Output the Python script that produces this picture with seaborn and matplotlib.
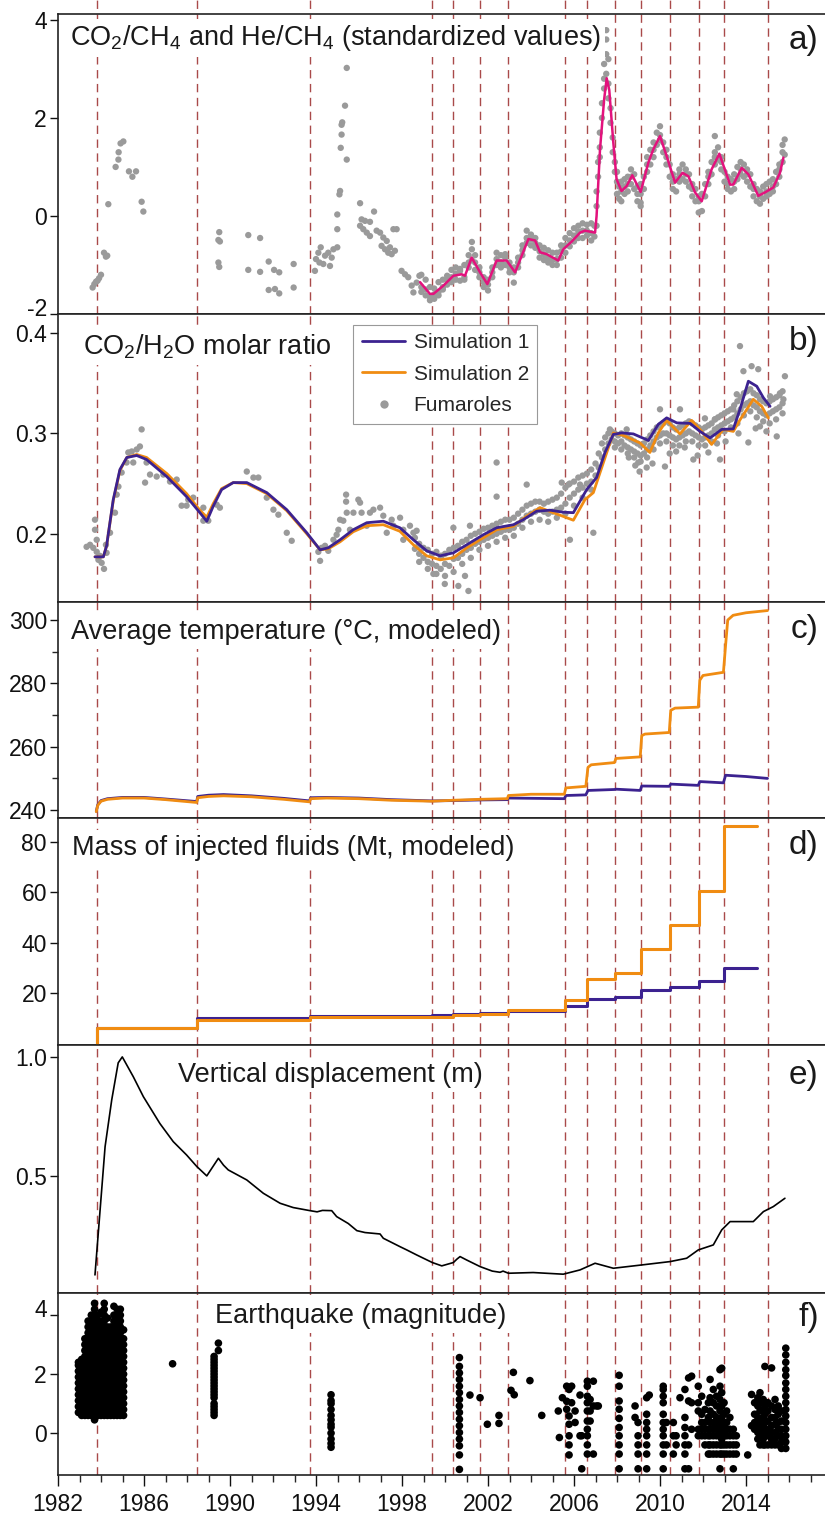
import numpy as np
import pandas as pd
import matplotlib
matplotlib.use("Agg")
import matplotlib.pyplot as plt
import matplotlib.transforms as mtrans
import seaborn as sns
from matplotlib.lines import Line2D
from matplotlib.ticker import FixedLocator, MultipleLocator

# ---------------- data ----------------
events = [1983.81, 1988.47, 1993.72, 1999.40, 2000.37, 2001.63, 2002.93,
          2005.58, 2006.60, 2007.91, 2009.12, 2010.47, 2011.81, 2012.98, 2015.02]

# (a) CO2/CH4 & He/CH4 standardized
a_sparse = [(1983.61, -1.46), (1983.69, -1.39), (1983.77, -1.34), (1983.84, -1.32), (1983.91, -1.27),
            (1984.00, -1.20), (1984.14, -0.75), (1984.23, -0.83), (1984.29, -0.81), (1984.34, 0.24),
            (1984.68, 1.00), (1984.81, 1.15), (1984.82, 1.30), (1984.91, 1.48), (1985.04, 1.52),
            (1985.30, 0.91), (1985.46, 0.80), (1985.63, 0.91), (1985.89, 0.29), (1985.97, 0.09),
            (1989.50, -0.33), (1989.46, -0.49), (1989.53, -0.52), (1989.46, -0.95), (1989.50, -1.04),
            (1990.85, -0.39), (1991.40, -0.45), (1990.85, -1.10), (1991.40, -1.14), (1991.80, -0.93),
            (1992.05, -1.10), (1992.29, -1.15), (1991.80, -1.51), (1992.09, -1.49), (1992.29, -1.58),
            (1992.96, -0.98), (1992.96, -1.46),
            (1993.95, -1.12), (1994.00, -0.88), (1994.11, -0.75), (1994.22, -0.64), (1994.16, -0.95),
            (1994.34, -0.98), (1994.42, -0.81), (1994.57, -0.75), (1994.65, -1.02), (1994.73, -0.85),
            (1994.81, -0.68), (1994.99, -0.64), (1994.99, -0.27), (1994.99, 0.03), (1995.09, 0.44),
            (1995.12, 0.51), (1995.15, 1.39), (1995.19, 1.66), (1995.19, 1.86), (1995.22, 1.91),
            (1995.35, 2.25), (1995.43, 3.02), (1995.43, 1.15), (1996.05, 0.26), (1996.70, 0.09),
            (1996.12, -0.07), (1996.28, -0.10), (1996.51, -0.12), (1996.05, -0.20), (1996.20, -0.27),
            (1996.36, -0.34), (1996.51, -0.41), (1996.82, -0.30), (1996.98, -0.34), (1997.13, -0.44),
            (1997.29, -0.51), (1997.05, -0.61), (1997.21, -0.68), (1997.36, -0.75), (1997.52, -0.78),
            (1997.60, -0.27), (1997.75, -0.27), (1997.44, -0.64), (1997.67, -0.71), (1997.98, -1.12),
            (1998.14, -1.19), (1998.29, -1.25), (1998.45, -1.42), (1998.53, -1.56), (1998.68, -1.36),
            (1998.81, -1.22)]

a_dense_t = [1998.9, 1999.1, 1999.3, 1999.5, 1999.7, 1999.9, 2000.1, 2000.3, 2000.5, 2000.7,
             2000.9, 2001.1, 2001.25, 2001.4, 2001.6, 2001.8, 2002.0, 2002.2, 2002.4, 2002.6,
             2002.8, 2003.0, 2003.2, 2003.4, 2003.6, 2003.8, 2004.0, 2004.2, 2004.4, 2004.6,
             2004.8, 2005.0, 2005.2, 2005.4, 2005.6, 2005.8, 2006.0, 2006.2, 2006.4, 2006.6,
             2006.8, 2006.95, 2007.05, 2007.12, 2007.2, 2007.3, 2007.4, 2007.5, 2007.6, 2007.7,
             2007.8, 2007.9, 2008.0, 2008.1, 2008.2, 2008.35, 2008.5, 2008.65, 2008.8, 2008.95,
             2009.1, 2009.25, 2009.4, 2009.55, 2009.7, 2009.85, 2010.0, 2010.15, 2010.3, 2010.45,
             2010.6, 2010.75, 2010.9, 2011.05, 2011.2, 2011.35, 2011.5, 2011.65, 2011.8, 2011.95,
             2012.1, 2012.25, 2012.4, 2012.55, 2012.7, 2012.85, 2013.0, 2013.15, 2013.3, 2013.45,
             2013.6, 2013.75, 2013.9, 2014.05, 2014.2, 2014.35, 2014.5, 2014.65, 2014.8, 2014.95,
             2015.1, 2015.25, 2015.4, 2015.55, 2015.7, 2015.8]
a_dense_v = [[-1.20, -1.45, -1.55], [-1.30, -1.62, -1.50], [-1.45, -1.72, -1.65], [-1.48, -1.69, -1.60],
             [-1.35, -1.55, -1.62], [-1.30, -1.50, -1.45], [-1.22, -1.40, -1.30], [-1.10, -1.35, -1.25],
             [-1.05, -1.30, -1.18], [-1.08, -1.32, -1.12], [-1.00, -1.30, -1.25], [-0.80, -1.05, -0.95],
             [-0.53, -0.68, -0.90], [-0.95, -1.10, -0.80], [-1.05, -1.25, -1.15], [-1.25, -1.45, -1.35],
             [-1.30, -1.52, -1.40], [-1.05, -1.25, -1.15], [-0.75, -1.00, -0.88], [-0.80, -1.05, -0.95],
             [-0.78, -1.00, -0.85], [-0.95, -1.15, -1.05], [-1.05, -1.36, -1.15], [-0.85, -1.05, -0.95],
             [-0.60, -0.80, -0.70], [-0.30, -0.55, -0.45], [-0.38, -0.60, -0.48], [-0.45, -0.65, -0.55],
             [-0.60, -0.85, -0.72], [-0.65, -0.90, -0.78], [-0.70, -0.95, -0.85], [-0.75, -1.00, -0.90],
             [-0.75, -1.00, -0.88], [-0.60, -0.85, -0.72], [-0.45, -0.75, -0.60], [-0.35, -0.62, -0.50],
             [-0.25, -0.52, -0.40], [-0.20, -0.45, -0.32], [-0.15, -0.45, -0.30], [-0.18, -0.40, -0.30],
             [-0.15, -0.50, -0.35], [-0.20, -0.42], [0.20, -0.20, 0.50], [0.80, 1.10],
             [1.40, 1.70, 1.20], [2.00, 2.30], [2.60, 3.10, 2.80], [3.30, 3.60, 3.79, 2.90],
             [3.20, 2.70, 2.40], [2.20, 1.90], [1.60, 1.30], [0.90, 1.10],
             [0.70, 0.45, 0.90], [0.60, 0.35], [0.50, 0.30, 0.70], [0.45, 0.75, 0.60],
             [0.80, 0.50, 0.65], [0.95, 0.65, 0.80], [0.85, 0.55], [0.60, 0.30, 0.45],
             [0.45, 0.20, 0.65, 0.27], [0.80, 0.55], [1.20, 0.90, 1.05], [1.35, 1.05],
             [1.50, 1.20, 1.35], [1.70, 1.45], [1.83, 1.55, 1.65], [1.50, 1.30],
             [1.35, 1.05, 1.20], [1.05, 0.80], [0.85, 0.55, 0.70], [0.75, 0.50],
             [0.95, 0.70, 0.85], [1.05, 0.75], [0.95, 0.70, 0.85], [0.85, 0.60],
             [0.65, 0.40, 0.55], [0.55, 0.30], [0.40, 0.07, 0.30], [0.45, 0.10],
             [0.65, 0.40], [0.90, 0.65, 0.80], [1.10, 0.85], [1.63, 1.30, 1.05, 1.20],
             [1.40, 1.15], [1.20, 0.95, 1.10], [0.90, 0.70], [0.80, 0.55, 0.65],
             [0.75, 0.50], [0.85, 0.55, 0.70], [1.00, 0.75], [1.10, 0.85, 0.95],
             [1.05, 0.80], [0.95, 0.70, 0.85], [0.85, 0.60], [0.65, 0.40, 0.55],
             [0.55, 0.30], [0.50, 0.25, 0.40], [0.60, 0.35], [0.65, 0.40, 0.50],
             [0.70, 0.45], [0.75, 0.50, 0.60], [0.90, 0.65], [1.05, 0.80, 0.95],
             [1.30, 1.10, 1.45], [1.56, 1.25]]

a_line_t = [1998.84, 1999.30, 1999.46, 1999.93, 2000.39, 2000.78, 2000.93, 2001.24, 2001.63, 2001.97,
            2002.40, 2002.87, 2003.26, 2003.88, 2004.19, 2004.42, 2004.73, 2005.27, 2005.50, 2005.90,
            2006.28, 2006.51, 2006.98, 2007.05, 2007.21, 2007.40, 2007.52, 2007.64, 2007.83, 2007.98,
            2008.21, 2008.45, 2008.71, 2009.10, 2009.46, 2009.69, 2010.00, 2010.31, 2010.70, 2011.05,
            2011.32, 2011.63, 2011.94, 2012.40, 2012.76, 2013.26, 2013.41, 2013.80, 2014.11, 2014.57,
            2014.88, 2015.27, 2015.58, 2015.74]
a_line_v = [-1.35, -1.59, -1.59, -1.42, -1.22, -1.19, -1.22, -0.85, -1.15, -1.39,
            -0.91, -0.91, -1.15, -0.47, -0.50, -0.74, -0.78, -0.91, -0.68, -0.52,
            -0.34, -0.30, -0.34, 0.00, 1.36, 2.37, 2.81, 2.57, 1.49, 0.75,
            0.51, 0.61, 0.83, 0.49, 1.09, 1.36, 1.63, 1.22, 0.68, 0.88,
            0.81, 0.48, 0.30, 0.95, 1.27, 0.64, 0.64, 0.98, 0.85, 0.41,
            0.48, 0.58, 0.88, 1.19]

# (b) CO2/H2O molar ratio
b_sparse = [(1983.33, 0.187), (1983.49, 0.189), (1983.64, 0.186), (1983.72, 0.214), (1983.72, 0.204),
            (1983.80, 0.194), (1983.80, 0.182), (1983.88, 0.174), (1983.95, 0.178), (1984.03, 0.171),
            (1984.14, 0.165), (1984.23, 0.189), (1984.26, 0.181), (1984.42, 0.201), (1984.65, 0.221),
            (1984.73, 0.239), (1984.81, 0.247), (1984.96, 0.261), (1985.19, 0.271), (1985.27, 0.281),
            (1985.43, 0.282), (1985.50, 0.271), (1985.66, 0.284), (1985.81, 0.287), (1985.89, 0.304),
            (1986.12, 0.271), (1986.05, 0.251), (1986.28, 0.259), (1986.59, 0.257), (1986.90, 0.259),
            (1987.21, 0.252), (1987.52, 0.254), (1987.75, 0.228), (1987.98, 0.228), (1988.06, 0.234),
            (1988.29, 0.236), (1988.76, 0.226), (1988.76, 0.213), (1988.99, 0.213), (1989.38, 0.229),
            (1989.53, 0.226), (1990.78, 0.262), (1991.09, 0.256), (1991.32, 0.256), (1991.71, 0.236),
            (1992.02, 0.224), (1992.25, 0.219), (1992.64, 0.201), (1992.87, 0.193), (1994.11, 0.182),
            (1994.19, 0.173), (1994.26, 0.186), (1994.42, 0.188), (1994.57, 0.183), (1994.81, 0.194),
            (1994.96, 0.199), (1995.04, 0.204), (1995.27, 0.213), (1995.12, 0.214), (1995.40, 0.239),
            (1995.40, 0.232), (1995.43, 0.221), (1995.58, 0.204), (1995.74, 0.221), (1995.97, 0.234),
            (1996.05, 0.231), (1996.12, 0.221), (1996.36, 0.208), (1996.51, 0.221), (1996.67, 0.224),
            (1996.98, 0.226), (1997.13, 0.218), (1997.29, 0.201), (1997.52, 0.214), (1997.60, 0.208),
            (1997.91, 0.216), (1998.06, 0.204), (1998.06, 0.194), (1998.37, 0.208), (1998.53, 0.201),
            (1998.68, 0.203), (1998.76, 0.188),
            (1999.46, 0.160), (1999.84, 0.178), (1999.99, 0.150), (2000.39, 0.206), (2000.62, 0.148),
            (2000.93, 0.158), (2001.09, 0.143), (2001.16, 0.208), (2002.40, 0.271), (2002.40, 0.237),
            (2003.80, 0.249), (2005.43, 0.251), (2005.74, 0.249), (2005.81, 0.194), (2006.28, 0.249),
            (2006.90, 0.201), (2007.67, 0.304), (2008.45, 0.304), (2008.99, 0.271), (2009.38, 0.266),
            (2010.00, 0.324), (2010.23, 0.267), (2010.93, 0.324), (2011.55, 0.274), (2012.09, 0.315),
            (2012.56, 0.314), (2012.79, 0.274), (2013.41, 0.324), (2013.57, 0.339), (2013.72, 0.387),
            (2013.88, 0.362), (2014.11, 0.291), (2014.26, 0.367), (2014.57, 0.364), (2014.65, 0.307),
            (2015.12, 0.337), (2015.43, 0.297), (2015.58, 0.340), (2015.81, 0.357), (2015.74, 0.334),
            (2008.55, 0.276), (2008.85, 0.268), (2009.05, 0.262), (2009.65, 0.270), (2010.45, 0.280),
            (2010.75, 0.282), (2011.15, 0.286), (2011.75, 0.278), (2012.25, 0.281), (2012.65, 0.290),
            (2013.05, 0.292), (2013.65, 0.300), (2014.45, 0.305), (2014.95, 0.302)]

b_dense_t = [1998.6, 1998.8, 1999.0, 1999.2, 1999.4, 1999.6, 1999.8, 2000.0, 2000.2, 2000.4,
             2000.6, 2000.8, 2001.0, 2001.2, 2001.4, 2001.6, 2001.8, 2002.0, 2002.2, 2002.4,
             2002.6, 2002.8, 2003.0, 2003.2, 2003.4, 2003.6, 2003.8, 2004.0, 2004.2, 2004.4,
             2004.6, 2004.8, 2005.0, 2005.2, 2005.4, 2005.6, 2005.8, 2006.0, 2006.2, 2006.4,
             2006.6, 2006.8, 2007.0, 2007.15, 2007.3, 2007.45, 2007.6, 2007.75, 2007.9, 2008.05,
             2008.2, 2008.35, 2008.5, 2008.65, 2008.8, 2008.95, 2009.1, 2009.25, 2009.4, 2009.55,
             2009.7, 2009.85, 2010.0, 2010.15, 2010.3, 2010.45, 2010.6, 2010.75, 2010.9, 2011.05,
             2011.2, 2011.35, 2011.5, 2011.65, 2011.8, 2011.95, 2012.1, 2012.25, 2012.4, 2012.55,
             2012.7, 2012.85, 2013.0, 2013.15, 2013.3, 2013.45, 2013.6, 2013.75, 2013.9, 2014.05,
             2014.2, 2014.35, 2014.5, 2014.65, 2014.8, 2014.95, 2015.1, 2015.25, 2015.4, 2015.55,
             2015.7]
b_dense_v = [[0.196, 0.185], [0.190, 0.180, 0.172], [0.186, 0.176], [0.184, 0.172, 0.165], [0.180, 0.170],
             [0.182, 0.168, 0.160], [0.178, 0.165], [0.180, 0.170, 0.158], [0.184, 0.168], [0.186, 0.175, 0.162],
             [0.188, 0.176], [0.192, 0.180, 0.170], [0.194, 0.184], [0.198, 0.186, 0.176], [0.200, 0.190],
             [0.202, 0.192, 0.184], [0.205, 0.194], [0.206, 0.196, 0.188], [0.208, 0.198], [0.210, 0.200, 0.192],
             [0.212, 0.202], [0.214, 0.204, 0.196], [0.214, 0.204], [0.216, 0.206, 0.198], [0.220, 0.210],
             [0.224, 0.214, 0.206], [0.228, 0.218], [0.230, 0.220, 0.212], [0.232, 0.222], [0.232, 0.224, 0.214],
             [0.230, 0.222], [0.232, 0.220, 0.212], [0.234, 0.222], [0.236, 0.224, 0.216], [0.240, 0.226],
             [0.246, 0.230, 0.220], [0.250, 0.236], [0.252, 0.240, 0.228], [0.256, 0.244], [0.258, 0.246, 0.236],
             [0.260, 0.250], [0.264, 0.252, 0.244], [0.270, 0.258], [0.280, 0.266], [0.290, 0.276],
             [0.296, 0.284], [0.300, 0.290], [0.302, 0.294], [0.300, 0.292, 0.286], [0.298, 0.290],
             [0.300, 0.292, 0.284], [0.298, 0.288], [0.296, 0.286, 0.280], [0.294, 0.284], [0.292, 0.282, 0.276],
             [0.290, 0.280], [0.288, 0.278, 0.272], [0.290, 0.280], [0.294, 0.284, 0.276], [0.298, 0.288],
             [0.302, 0.292, 0.284], [0.306, 0.296], [0.308, 0.298, 0.290], [0.310, 0.300], [0.312, 0.300, 0.292],
             [0.310, 0.298], [0.306, 0.296, 0.288], [0.304, 0.294], [0.306, 0.296, 0.288], [0.308, 0.298],
             [0.310, 0.300, 0.292], [0.312, 0.302], [0.310, 0.300, 0.292], [0.308, 0.298], [0.306, 0.296, 0.288],
             [0.304, 0.294], [0.306, 0.296, 0.288], [0.308, 0.298], [0.310, 0.300, 0.292], [0.314, 0.304],
             [0.316, 0.306, 0.298], [0.318, 0.308], [0.320, 0.310, 0.302], [0.322, 0.312], [0.324, 0.314, 0.306],
             [0.328, 0.316], [0.332, 0.320, 0.310], [0.336, 0.324], [0.340, 0.328, 0.318], [0.342, 0.330],
             [0.344, 0.332, 0.322], [0.340, 0.328], [0.338, 0.326, 0.316], [0.334, 0.322], [0.332, 0.320, 0.312],
             [0.330, 0.318], [0.332, 0.320, 0.310], [0.334, 0.322], [0.336, 0.324, 0.314], [0.338, 0.326],
             [0.342, 0.330, 0.320]]

sim_b_t = [1983.72, 1984.11, 1984.26, 1984.57, 1984.88, 1985.20, 1985.66, 1986.12, 1987.06, 1987.98,
           1988.60, 1988.92, 1989.22, 1989.61, 1990.15, 1990.78, 1991.71, 1992.64, 1993.57, 1994.19,
           1994.57, 1995.12, 1995.73, 1996.36, 1997.13, 1997.90, 1998.53, 1999.15, 1999.77, 2000.39,
           2001.01, 2001.78, 2002.40, 2003.18, 2003.64, 2004.26, 2004.88, 2005.50, 2005.97, 2006.59,
           2007.05, 2007.44, 2007.83, 2008.21, 2008.76, 2009.46, 2009.92, 2010.31, 2010.78, 2011.40,
           2011.86, 2012.33, 2012.87, 2013.41, 2013.72, 2014.11, 2014.50, 2014.81, 2015.12]
sim1_b = [0.177, 0.177, 0.188, 0.234, 0.264, 0.276, 0.278, 0.274, 0.257, 0.237,
          0.221, 0.2125, 0.2275, 0.244, 0.251, 0.251, 0.241, 0.224, 0.201, 0.184,
          0.186, 0.194, 0.204, 0.211, 0.2125, 0.206, 0.194, 0.183, 0.178, 0.181,
          0.189, 0.199, 0.206, 0.209, 0.214, 0.2225, 0.2235, 0.2215, 0.221, 0.244,
          0.256, 0.281, 0.299, 0.3005, 0.2995, 0.293, 0.309, 0.3155, 0.3105, 0.310,
          0.302, 0.2955, 0.304, 0.3045, 0.324, 0.352, 0.347, 0.3355, 0.327]
sim2_b_t = [1983.72, 1984.11, 1984.26, 1984.57, 1984.88, 1985.20, 1985.66, 1986.12, 1987.06, 1987.98,
            1988.60, 1988.92, 1989.22, 1989.61, 1990.15, 1990.78, 1991.71, 1992.64, 1993.57, 1994.19,
            1994.57, 1995.12, 1995.73, 1996.36, 1997.13, 1997.90, 1998.53, 1999.15, 1999.77, 2000.39,
            2001.01, 2001.78, 2002.40, 2003.18, 2003.80, 2004.42, 2005.04, 2005.97, 2006.51, 2006.90,
            2007.29, 2007.83, 2008.30, 2009.07, 2009.53, 2009.92, 2010.31, 2010.93, 2011.47, 2011.94,
            2012.40, 2012.94, 2013.41, 2013.72, 2014.34, 2014.73, 2015.04]
sim2_b = [0.177, 0.177, 0.188, 0.233, 0.263, 0.276, 0.279, 0.276, 0.260, 0.240,
          0.2235, 0.2165, 0.230, 0.245, 0.251, 0.250, 0.240, 0.223, 0.200, 0.184,
          0.185, 0.192, 0.202, 0.208, 0.209, 0.2025, 0.189, 0.178, 0.174, 0.176,
          0.186, 0.196, 0.204, 0.2075, 0.2175, 0.226, 0.221, 0.2135, 0.234, 0.241,
          0.266, 0.3005, 0.298, 0.2905, 0.281, 0.3005, 0.313, 0.2995, 0.313, 0.302,
          0.289, 0.304, 0.302, 0.3135, 0.334, 0.327, 0.3155]

# (c) average temperature
sim2_c_t = [1983.78, 1983.85, 1984.00, 1984.30, 1985.00, 1986.00, 1987.00, 1988.45, 1988.50, 1989.00,
            1989.70, 1991.00, 1992.50, 1993.70, 1993.75, 1994.50, 1996.00, 1997.50, 1999.40, 2000.37,
            2001.63, 2002.90, 2002.95, 2004.00, 2005.55, 2005.62, 2006.55, 2006.65, 2006.80, 2007.88,
            2007.95, 2009.08, 2009.15, 2009.30, 2010.43, 2010.50, 2010.70, 2011.78, 2011.85, 2012.00,
            2012.95, 2013.05, 2013.15, 2013.40, 2014.00, 2015.00]
sim2_c = [239.5, 241.5, 242.8, 243.4, 243.8, 243.8, 243.3, 242.4, 243.9, 244.3,
          244.5, 244.2, 243.4, 242.6, 243.6, 243.8, 243.6, 243.1, 242.8, 243.1,
          243.4, 243.6, 244.6, 245.0, 245.0, 247.0, 247.5, 253.5, 254.3, 255.0,
          256.3, 256.8, 263.5, 264.0, 264.5, 271.5, 272.2, 272.5, 281.0, 282.5,
          283.5, 292.0, 300.0, 301.5, 302.3, 303.0]
sim1_c_t = [1983.78, 1983.85, 1984.00, 1984.30, 1985.00, 1986.00, 1987.00, 1988.45, 1988.50, 1989.00,
            1989.70, 1991.00, 1992.50, 1993.70, 1993.75, 1994.50, 1996.00, 1997.50, 1999.40, 2000.37,
            2001.63, 2002.90, 2002.95, 2005.55, 2005.62, 2006.55, 2006.65, 2007.88, 2007.95, 2009.08,
            2009.15, 2010.43, 2010.50, 2011.78, 2011.85, 2012.95, 2013.05, 2014.00, 2015.00]
sim1_c = [239.6, 241.7, 243.0, 243.6, 244.0, 244.0, 243.5, 242.7, 244.3, 244.7,
          244.9, 244.5, 243.7, 242.9, 243.9, 244.0, 243.8, 243.3, 242.9, 243.0,
          243.2, 243.3, 243.8, 243.6, 244.6, 244.8, 246.2, 246.5, 246.6, 246.2,
          247.6, 247.5, 248.2, 247.8, 249.0, 248.6, 251.0, 250.6, 250.0]

# (d) mass of injected fluids (steps)
d_t = [1983.81, 1983.81, 1988.47, 1993.72, 1999.40, 2000.37, 2001.63, 2002.93,
       2005.58, 2006.60, 2007.91, 2009.12, 2010.47, 2011.81, 2012.98, 2014.51]
sim1_d = [0.0, 6.3, 10.1, 11.1, 11.4, 11.7, 12.1, 13.0, 14.9, 17.8, 18.6, 21.2, 22.7, 25.1, 30.1, 30.1]
sim2_d = [0.0, 6.2, 9.4, 10.5, 10.7, 11.4, 12.0, 13.3, 17.3, 25.8, 28.0, 37.8, 47.3, 60.4, 86.2, 86.2]

# (e) vertical displacement
e_t = [1983.72, 1984.19, 1984.50, 1984.80, 1984.99, 1985.50, 1985.97, 1986.74, 1987.36, 1987.98,
       1988.45, 1988.92, 1989.46, 1989.70, 1989.92, 1990.78, 1991.55, 1992.33, 1992.94, 1993.72,
       1994.05, 1994.30, 1994.73, 1994.96, 1995.50, 1995.90, 1996.28, 1996.98, 1997.13, 1997.90,
       1998.22, 1998.68, 1999.41, 1999.85, 2000.39, 2000.55, 2000.70, 2001.00, 2001.63, 2002.20,
       2002.56, 2002.70, 2002.95, 2004.10, 2005.50, 2006.28, 2006.98, 2007.83, 2009.07, 2010.47,
       2011.24, 2011.78, 2012.48, 2012.87, 2013.26, 2014.34, 2014.81, 2015.27, 2015.81]
e_v = [0.084, 0.623, 0.820, 0.975, 1.000, 0.917, 0.833, 0.720, 0.644, 0.588,
       0.540, 0.500, 0.574, 0.545, 0.525, 0.483, 0.427, 0.385, 0.367, 0.354,
       0.349, 0.355, 0.354, 0.329, 0.300, 0.270, 0.262, 0.256, 0.238, 0.203,
       0.189, 0.168, 0.136, 0.122, 0.136, 0.150, 0.161, 0.147, 0.119, 0.100,
       0.095, 0.100, 0.091, 0.094, 0.087, 0.105, 0.133, 0.112, 0.125, 0.140,
       0.154, 0.189, 0.210, 0.273, 0.308, 0.308, 0.350, 0.371, 0.406]

# (f) earthquakes: columns of events (time, magnitudes)
blk_t = [1982.95, 1983.10, 1983.25, 1983.40, 1983.55, 1983.70, 1983.85, 1984.00,
         1984.15, 1984.30, 1984.45, 1984.60, 1984.75, 1984.90, 1985.05]
blk_m = [[0.7, 0.9, 1.1, 1.3, 1.5, 1.7, 1.9, 2.1, 2.3, 2.4],
         [0.6, 0.8, 1.0, 1.2, 1.4, 1.6, 1.8, 2.0, 2.2, 2.4, 2.5],
         [0.6, 0.8, 1.0, 1.2, 1.4, 1.6, 1.8, 2.0, 2.2, 2.4, 2.6, 2.8, 3.0, 3.2],
         [0.6, 0.8, 1.0, 1.2, 1.4, 1.6, 1.8, 2.0, 2.2, 2.4, 2.6, 2.8, 3.0, 3.2, 3.4, 3.6, 3.8],
         [0.6, 0.8, 1.0, 1.2, 1.4, 1.6, 1.8, 2.0, 2.2, 2.4, 2.6, 2.8, 3.0, 3.2, 3.4, 3.6, 3.8, 4.0],
         [0.45, 0.6, 0.8, 1.0, 1.2, 1.4, 1.6, 1.8, 2.0, 2.2, 2.4, 2.6, 2.8, 3.0, 3.2, 3.4, 3.6, 3.8, 4.0, 4.2, 4.4],
         [0.6, 0.8, 1.0, 1.2, 1.4, 1.6, 1.8, 2.0, 2.2, 2.4, 2.6, 2.8, 3.0, 3.2, 3.4, 3.6, 3.8, 4.0],
         [0.6, 0.8, 1.0, 1.2, 1.4, 1.6, 1.8, 2.0, 2.2, 2.4, 2.6, 2.8, 3.0, 3.2, 3.4, 3.6, 3.8, 4.1],
         [0.6, 0.8, 1.0, 1.2, 1.4, 1.6, 1.8, 2.0, 2.2, 2.4, 2.6, 2.8, 3.0, 3.2, 3.4, 3.6, 3.8, 4.0, 4.2, 4.4],
         [0.6, 0.8, 1.0, 1.2, 1.4, 1.6, 1.8, 2.0, 2.2, 2.4, 2.6, 2.8, 3.0, 3.2, 3.4, 3.6, 3.9],
         [0.6, 0.8, 1.0, 1.2, 1.4, 1.6, 1.8, 2.0, 2.2, 2.4, 2.6, 2.8, 3.0, 3.2, 3.4, 3.6],
         [0.6, 0.8, 1.0, 1.2, 1.4, 1.6, 1.8, 2.0, 2.2, 2.4, 2.6, 2.8, 3.0, 3.2, 3.4, 3.6, 3.8, 4.0, 4.3],
         [0.6, 0.8, 1.0, 1.2, 1.4, 1.6, 1.8, 2.0, 2.2, 2.4, 2.6, 2.8, 3.0, 3.2, 3.4, 3.6, 3.8, 4.0, 4.2],
         [0.6, 0.8, 1.0, 1.2, 1.4, 1.6, 1.8, 2.0, 2.2, 2.4, 2.6, 2.8, 3.0, 3.2, 3.4, 3.6, 3.8, 4.0, 4.2],
         [0.6, 0.8, 1.0, 1.2, 1.4, 1.6, 1.8, 2.0, 2.2, 2.4, 2.6, 2.8, 3.0, 3.2, 3.5]]

eq_t = [1987.33, 1989.26, 1989.46, 1994.70, 2000.67, 2001.16, 2001.63, 2001.97, 2002.51, 2003.07,
        2003.18, 2003.22, 2003.95, 2004.50,
        2005.27, 2005.32, 2005.46, 2005.66, 2005.77, 2005.89, 2006.05, 2006.28, 2006.36, 2006.62, 2006.75,
        2006.90, 2007.05, 2007.13,
        2008.10, 2008.84, 2008.98, 2009.38, 2009.50,
        2010.15, 2010.30, 2010.62, 2010.75, 2010.93, 2011.16, 2011.33, 2011.47,
        2011.78, 2011.94, 2012.09, 2012.25, 2012.33, 2012.48, 2012.63, 2012.79, 2012.87, 2012.98,
        2013.10, 2013.25, 2013.41, 2013.55,
        2014.08, 2014.26, 2014.40, 2014.55, 2014.65, 2014.80, 2014.88, 2015.02, 2015.19, 2015.35,
        2015.50, 2015.65, 2015.85]
eq_m = [[2.35],
        [0.6, 0.7, 0.8, 0.9, 1.0, 1.2, 1.3, 1.4, 1.5, 1.6, 1.7, 1.8, 1.9, 2.0, 2.1, 2.2, 2.3, 2.4, 2.5, 2.6],
        [2.8, 3.05],
        [1.3, 1.1, 1.0, 0.8, 0.6, 0.45, 0.3, 0.2, 0.0, -0.2, -0.35, -0.48],
        [2.56, 2.26, 2.04, 1.82, 1.59, 1.37, 1.14, 0.92, 0.70, 0.47, 0.25, 0.02, -0.20, -0.43, -0.74, -1.23],
        [1.29], [1.20], [0.30], [0.60, 0.33], [1.45],
        [2.06], [1.30], [1.78], [0.60],
        [0.75], [-0.15], [1.20], [1.59, 1.08, 0.81],
        [1.48, 0.58, 0.30, -0.09, -0.40, -0.74], [1.59, 1.03],
        [0.75, 0.36], [1.29, -0.09], [-1.21, -0.09],
        [1.76, 1.59, 1.25, 1.03, 0.75, 0.41, 0.13, -0.09, -0.40, -0.71],
        [1.14, 0.75, 0.41],
        [1.76, 0.92, -0.71], [0.92], [0.92],
        [1.96, 1.59, 1.09, 0.81, 0.50, 0.19, -0.09, -0.40, -0.71, -1.21],
        [0.92, 0.53], [0.36, -0.09, -0.40, -0.71, -1.21],
        [1.20, 0.64, 0.36, 0.13, -0.09, -0.40, -0.71, -1.21], [1.29],
        [1.59, 1.48, 1.25, 1.03, 0.64, 0.36, 0.13, -0.09, -0.40, -0.71, -1.21],
        [0.36, -0.40], [0.36, -0.09, -0.71], [-0.09, -0.40],
        [1.20], [1.48, 0.53, 0.19, -0.09, -0.40, -0.71, -1.21], [1.87, 1.09, -1.21, -0.40], [1.93, 1.03, 0.13],
        [1.59, 1.03, 0.75, 0.13, -0.09], [1.25, 0.64, 0.36, 0.13, -0.09], [0.80, 0.36, 0.13, -0.09, -0.40],
        [1.03, 0.53, 0.13, -0.09, -0.40, -0.71], [1.82, 1.20, 0.75, 0.36, 0.13, -0.09, -0.40, -0.71],
        [1.48, 1.03, 0.64, 0.36, 0.13, -0.09, -0.40, -0.71], [1.25, 0.92, 0.53, 0.30, 0.13, -0.09, -0.40, -0.71],
        [2.15, 1.59, 1.14, 0.75, 0.41, 0.13, -0.09, -0.40, -0.71, -1.21],
        [2.20, 1.37, 0.92, 0.53, 0.25, 0.02, -0.20, -0.40, -0.71],
        [1.03, 0.64, 0.36, 0.13, -0.09, -0.40, -0.71],
        [0.75, 0.36, 0.13, -0.09, -0.40, -0.71], [0.53, 0.13, -0.09, -0.40, -0.71],
        [0.13, -0.09, -0.40, -0.71, -1.21], [-0.09, -0.40, -0.71],
        [-0.74], [1.31, 0.25], [1.03, 0.64, 0.36, 0.13],
        [1.20, 0.92, 0.53, 0.30, 0.02, -0.20], [1.37, 1.03, 0.75, 0.41, 0.13, -0.09, -0.40],
        [1.14, 0.80, 0.53, 0.25, 0.02, -0.20, -0.40], [2.26, 0.92, 0.64, 0.36, 0.13, -0.09, -0.40],
        [1.03, 0.75, 0.41, 0.13, -0.09, -0.40], [2.21, 0.92, 0.53, 0.25, 0.02, -0.20, -0.40],
        [1.14, 0.80, 0.53, 0.30, 0.02, -0.20, -0.40], [0.92, 0.64, 0.36, 0.13, -0.09, -0.40],
        [0.75, 0.41, 0.13, -0.09, -0.30, -0.52],
        [2.88, 2.65, 2.40, 2.15, 1.95, 1.70, 1.48, 1.25, 1.03, 0.80, 0.58, 0.36, 0.13, -0.09, -0.30, -0.52]]

x_ticks = [1982, 1986, 1990, 1994, 1998, 2002, 2006, 2010, 2014]

# ---------------- style ----------------
sns.set_style("ticks")
plt.rcParams["font.family"] = ["Liberation Sans", "DejaVu Sans"]
plt.rcParams["mathtext.fontset"] = "custom"
plt.rcParams["mathtext.rm"] = "Liberation Sans"
plt.rcParams["mathtext.it"] = "Liberation Sans:italic"
plt.rcParams["axes.unicode_minus"] = False

PURPLE = "#3c2290"
ORANGE = "#f08c12"
MAGENTA = "#e3127d"
GRAY = "#9a9a9a"
DASH = "#a94a4a"
TICK_FS = 16.5
TITLE_FS = 19.5
LAB_FS = 24

W, H = 825, 1519
fig = plt.figure(figsize=(W / 100, H / 100), dpi=100)
panels_px = [(14, 314), (314, 602), (602, 818), (818, 1045), (1045, 1293), (1293, 1475)]
L = 58 / W
Wd = (W - 58) / W
axes = []
for top, bot in panels_px:
    ax = fig.add_axes([L, 1 - bot / H, Wd, (bot - top) / H])
    axes.append(ax)
ax_a, ax_b, ax_c, ax_d, ax_e, ax_f = axes

def flatten(ts, vs):
    xs, ys = [], []
    for t, col in zip(ts, vs):
        for v in col:
            xs.append(t)
            ys.append(v)
    return xs, ys

def scatter(ax, x, y, color=GRAY, s=21):
    sns.scatterplot(x=x, y=y, ax=ax, color=color, s=s, edgecolor="none", linewidth=0,
                    zorder=2, legend=False)

def line(ax, x, y, color, lw, **kw):
    sns.lineplot(x=x, y=y, ax=ax, color=color, lw=lw, estimator=None, sort=False,
                 zorder=3, legend=False, **kw)

# (a)
at, av = zip(*a_sparse)
scatter(ax_a, list(at), list(av))
dx, dy = flatten(a_dense_t, a_dense_v)
scatter(ax_a, dx, dy)
line(ax_a, a_line_t, a_line_v, MAGENTA, 1.8)

# (b)
bt, bv = zip(*b_sparse)
scatter(ax_b, list(bt), list(bv))
dx, dy = flatten(b_dense_t, b_dense_v)
scatter(ax_b, dx, dy)
line(ax_b, sim2_b_t, sim2_b, ORANGE, 2.0)
line(ax_b, sim_b_t, sim1_b, PURPLE, 2.0)

# (c)
line(ax_c, sim1_c_t, sim1_c, PURPLE, 2.0)
line(ax_c, sim2_c_t, sim2_c, ORANGE, 2.0)

# (d)
line(ax_d, d_t, sim1_d, PURPLE, 2.2, drawstyle="steps-post")
line(ax_d, d_t, sim2_d, ORANGE, 2.2, drawstyle="steps-post")

# (e)
line(ax_e, e_t, e_v, "black", 1.2)

# (f)
fx, fy = flatten(blk_t, blk_m)
gx, gy = flatten(eq_t, eq_m)
scatter(ax_f, fx + gx, fy + gy, color="black", s=30)

# limits
xlim = (1982, 1982 + (W - 58) / 21.5)
ylims = [(-2, 4.12), (0.132, 0.419), (237.5, 305.7), (-0.4, 89.5), (0.008, 1.05), (-1.42, 4.75)]
yticks = [[-2, 0, 2, 4], [0.2, 0.3, 0.4], [240, 260, 280, 300], [20, 40, 60, 80], [0.5, 1.0], [0, 2, 4]]
ylabels = [["-2", "0", "2", "4"], ["0.2", "0.3", "0.4"], ["240", "260", "280", "300"],
           ["20", "40", "60", "80"], ["0.5", "1.0"], ["0", "2", "4"]]

titles = [r"CO$_2$/CH$_4$ and He/CH$_4$ (standardized values)",
          r"CO$_2$/H$_2$O molar ratio",
          "Average temperature (\u00b0C, modeled)",
          "Mass of injected fluids (Mt, modeled)",
          "Vertical displacement (m)",
          "Earthquake (magnitude)"]
title_pos = [(0.0156, 0.92), (0.0326, 0.885), (0.017, 0.861), (0.018, 0.87), (0.156, 0.879), (0.205, 0.874)]
letters = ["a)", "b)", "c)", "d)", "e)", "f)"]
letter_y = [0.91, 0.906, 0.875, 0.88, 0.879, 0.868]

for i, ax in enumerate(axes):
    ax.set_xlim(*xlim)
    ax.set_ylim(*ylims[i])
    ax.set_xlabel("")
    ax.set_ylabel("")
    ax.set_facecolor("white")
    ax.yaxis.set_major_locator(FixedLocator(yticks[i]))
    ax.set_yticklabels(ylabels[i])
    ax.tick_params(axis="y", which="major", direction="out", length=6, width=1.0,
                   labelsize=TICK_FS, pad=2, colors="#111111")
    ax.spines["right"].set_visible(False)
    for sp in ["top", "bottom", "left"]:
        ax.spines[sp].set_color("#222222")
        ax.spines[sp].set_linewidth(1.2)
    ymax = 1 + 14 / 300 if i == 0 else 1
    for ev in events:
        ax.axvline(ev, ymin=0, ymax=ymax, color=DASH, lw=1.0, dashes=(6, 4), zorder=1,
                   clip_on=(i != 0))
    ax.text(title_pos[i][0], title_pos[i][1], titles[i], transform=ax.transAxes,
            fontsize=TITLE_FS, ha="left", va="center", color="#1a1a1a", zorder=6,
            bbox=dict(facecolor="white", edgecolor="none", pad=3))
    ax.text(0.992, letter_y[i], letters[i], transform=ax.transAxes, fontsize=LAB_FS,
            ha="right", va="center", color="#1a1a1a", zorder=6)
    if i < 5:
        ax.tick_params(axis="x", which="both", bottom=False, labelbottom=False, top=False)

# nudge edge labels away from the panel borders (as in the reference)
def nudge(label, dy_px):
    label.set_transform(label.get_transform() +
                        mtrans.ScaledTranslation(0, dy_px / 100, fig.dpi_scale_trans))

nudge(ax_a.get_yticklabels()[0], 7)    # "-2"
nudge(ax_f.get_yticklabels()[-1], 7)   # "4"

ax_c.yaxis.set_minor_locator(MultipleLocator(10))
ax_c.tick_params(axis="y", which="minor", direction="out", length=4, width=1.0)

ax_f.xaxis.set_major_locator(FixedLocator(x_ticks))
ax_f.xaxis.set_minor_locator(MultipleLocator(1))
ax_f.set_xticklabels([str(t) for t in x_ticks])
ax_f.tick_params(axis="x", which="major", direction="out", length=8, width=1.0,
                 labelsize=TICK_FS, pad=5, colors="#111111")
ax_f.tick_params(axis="x", which="minor", direction="out", length=5, width=1.0)

# legend in (b)
handles = [Line2D([0], [0], color=PURPLE, lw=2),
           Line2D([0], [0], color=ORANGE, lw=2),
           Line2D([0], [0], marker="o", color="none", markerfacecolor=GRAY,
                  markeredgecolor="none", markersize=6)]
leg = ax_b.legend(handles, ["Simulation 1", "Simulation 2", "Fumaroles"], loc="upper left",
                  bbox_to_anchor=(0.385, 0.962), fontsize=15, frameon=True, fancybox=False,
                  edgecolor="#999999", framealpha=1, handlelength=2.1, borderpad=0.4,
                  labelspacing=0.6, handletextpad=0.4, borderaxespad=0)
leg.get_frame().set_linewidth(0.8)
leg.set_zorder(7)

fig.savefig("out.png", dpi=100)
